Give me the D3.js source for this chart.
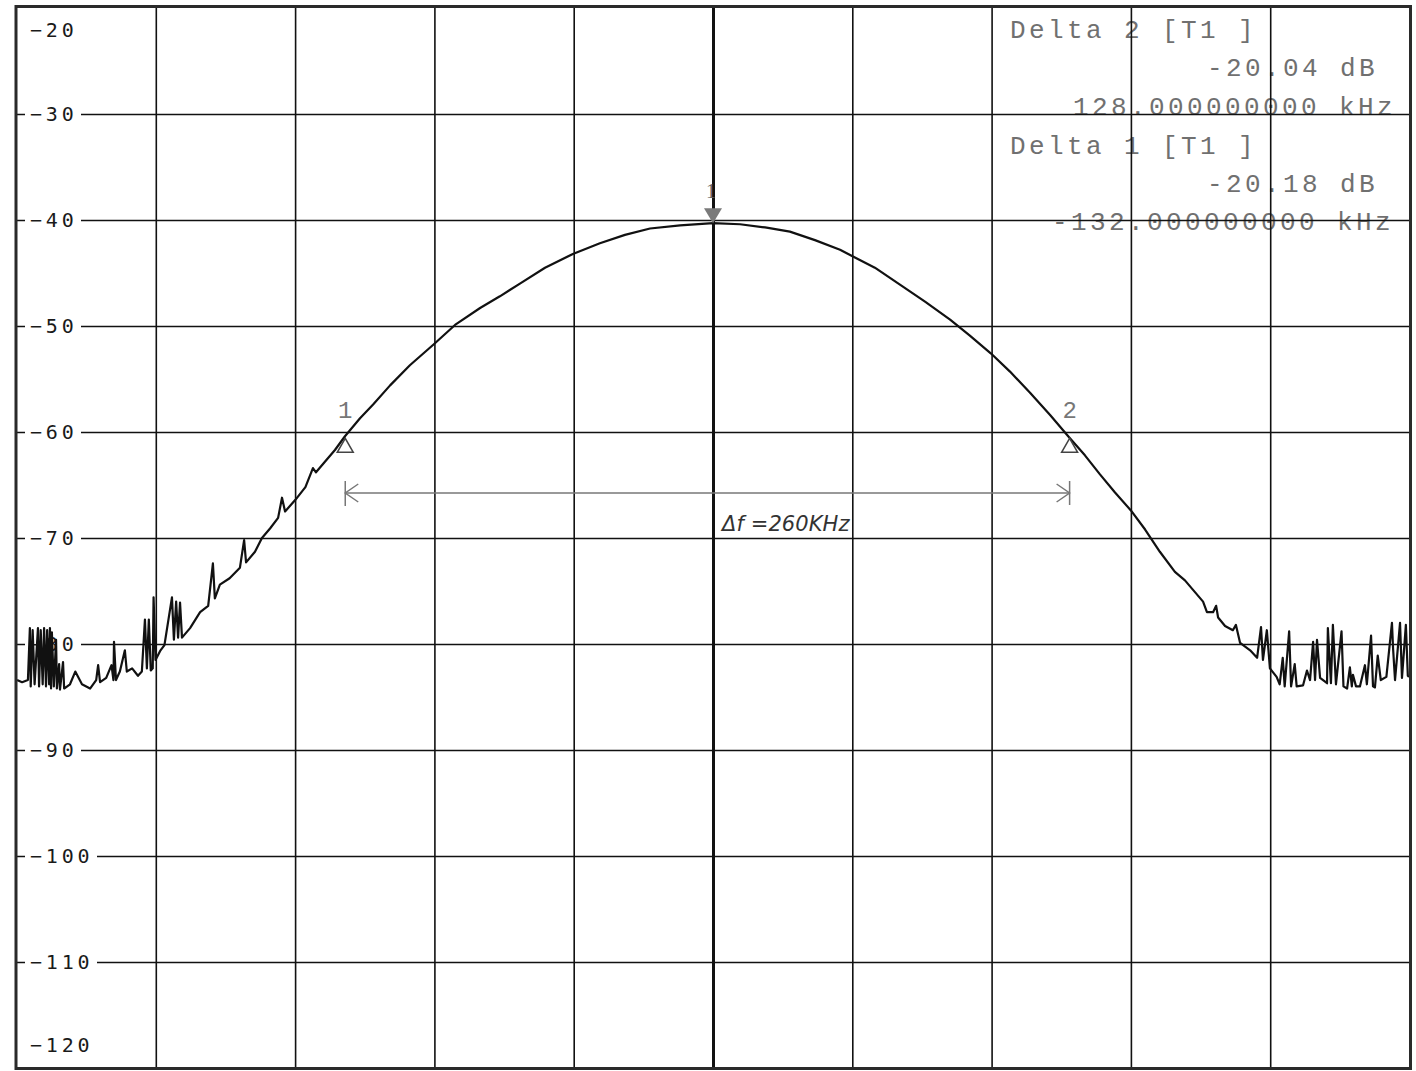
<!DOCTYPE html>
<html><head><meta charset="utf-8">
<script src="https://cdn.jsdelivr.net/npm/d3@7"></script>
<style>body{margin:0;background:#fff}svg{display:block}</style>
</head><body>
<svg id="c" width="1416" height="1071"></svg>
<script>
// ---- data ----
const yTicks = [-20,-30,-40,-50,-60,-70,-80,-90,-100,-110,-120];
const xTicks = [-250,-200,-150,-100,-50,0,50,100,150,200,250];
const traceKHz = [-249.8,-248.0,-245.9,-245.2,-244.9,-244.2,-243.5,-242.3,-241.9,-241.3,-240.6,-240.1,-239.4,-239.0,-238.3,-238.0,-237.6,-237.3,-236.6,-235.8,-235.5,-234.7,-234.4,-233.3,-232.9,-230.8,-228.9,-226.5,-223.6,-221.4,-220.7,-220.0,-217.8,-215.9,-215.2,-215.0,-214.3,-212.9,-211.1,-210.4,-208.5,-206.4,-205.0,-203.9,-203.2,-202.5,-201.8,-201.1,-200.8,-200.1,-198.3,-196.9,-194.2,-193.5,-192.7,-192.0,-191.3,-190.6,-187.7,-184.1,-181.2,-179.5,-178.8,-177.0,-173.5,-169.8,-168.3,-167.6,-164.4,-161.9,-159.0,-156.1,-154.7,-153.6,-149.9,-146.3,-143.6,-142.5,-139.3,-135.7,-132.1,-126.7,-122.0,-115.9,-108.8,-100.1,-92.6,-83.6,-76.5,-69.3,-60.3,-50.3,-40.6,-31.6,-22.6,-11.8,0,9.7,18.7,27.6,36.6,45.6,49.9,58.1,67.1,76.1,85.1,92.2,99.8,106.6,113.8,121.0,127.8,133.5,138.9,144.3,150.0,155.1,160.4,165.8,169.4,175.9,177.3,179.5,180.6,181.3,183.8,186.6,187.7,189.2,192.8,195.3,196.7,197.4,198.8,199.9,202.3,203.4,204.5,205.2,206.8,207.5,208.8,209.5,211.8,213.2,214.3,215.4,216.1,216.8,217.9,220.4,220.7,221.8,222.5,223.6,225.6,226.3,227.6,228.6,229.3,229.7,230.8,232.2,234.0,234.7,236.2,236.9,237.6,238.6,239.7,241.7,243.7,244.1,244.8,246.6,247.3,248.7,249.4,249.8];
const traceDb = [-83.4,-83.6,-83.4,-78.5,-84.0,-78.7,-83.8,-78.5,-84.0,-78.7,-83.8,-78.5,-84.0,-78.7,-83.8,-78.5,-84.2,-78.9,-84.0,-79.6,-84.2,-81.9,-84.3,-81.7,-84.2,-83.8,-82.6,-83.8,-84.2,-83.4,-82.0,-83.6,-83.2,-82.0,-83.4,-79.8,-83.4,-82.6,-80.6,-82.6,-82.3,-83.0,-82.6,-77.7,-82.3,-77.7,-82.5,-82.3,-75.6,-81.5,-80.6,-80.1,-75.6,-79.6,-76.0,-79.4,-76.1,-79.4,-78.5,-77.0,-76.4,-72.4,-75.7,-74.4,-73.8,-72.8,-70.2,-72.3,-71.3,-70.0,-69.1,-68.1,-66.2,-67.5,-66.4,-65.2,-63.4,-63.8,-62.8,-61.7,-60.4,-58.7,-57.4,-55.6,-53.7,-51.7,-49.9,-48.3,-47.2,-46.0,-44.5,-43.2,-42.2,-41.4,-40.8,-40.5,-40.3,-40.4,-40.7,-41.1,-41.9,-42.8,-43.4,-44.5,-46.1,-47.7,-49.4,-50.9,-52.6,-54.3,-56.3,-58.4,-60.5,-62.2,-64.0,-65.7,-67.4,-69.2,-71.3,-73.2,-74.0,-76.0,-77.0,-77.0,-76.4,-77.5,-78.3,-78.7,-78.2,-79.9,-80.6,-81.3,-78.4,-81.5,-78.7,-82.3,-83.1,-83.8,-81.3,-84.0,-78.8,-84.0,-81.9,-84.0,-83.9,-82.5,-83.4,-79.8,-83.4,-79.6,-83.2,-83.7,-78.5,-83.7,-78.2,-83.8,-78.8,-84.0,-84.2,-82.2,-84.0,-82.9,-84.0,-84.0,-82.0,-83.8,-79.2,-84.0,-84.1,-81.1,-83.4,-83.1,-78.0,-80.4,-83.4,-78.0,-83.2,-78.2,-83.0,-83.1];
const deltaMarkers = [
  {id:"1", khz:-132, db:-60.5},
  {id:"2", khz:128, db:-60.5}
];
const refMarker = {id:"1", khz:0, db:-40.3};
const infoLines = ["Delta 2 [T1 ]","-20.04 dB","128.000000000 kHz","Delta 1 [T1 ]","-20.18 dB","-132.000000000 kHz"];
const deltaNote = "Δf =260KHz";

// ---- layout ----
const svg = d3.select("#c");
const L=16.5, R=1409.5, T=8, B=1068;
const x = d3.scaleLinear().domain([-250,250]).range([L,R]);
const y = d3.scaleLinear().domain([-120,-20]).range([B,T]);

// marker info text (under grid)
const infoPos = [[1010,38],[1207,76],[1073,115],[1010,154],[1207,192],[1052,230]];
svg.append("g").selectAll("text").data(infoLines).join("text")
  .attr("x",(d,i)=>infoPos[i][0]).attr("y",(d,i)=>infoPos[i][1])
  .attr("font-family","'Courier New','Liberation Mono',monospace")
  .attr("font-size",26).attr("letter-spacing",3.4).attr("fill","#707070")
  .style("white-space","pre").text(d=>d);

// grid via axes
const gx = svg.append("g").attr("transform",`translate(0,${B})`)
  .call(d3.axisBottom(x).tickValues(xTicks.slice(1,-1)).tickSize(-(B-T)).tickFormat(""));
gx.select(".domain").remove();
gx.selectAll("line").attr("stroke","#111").attr("stroke-width",d=>d===0?3:1.6);
const gy = svg.append("g").attr("transform",`translate(${L},0)`)
  .call(d3.axisLeft(y).tickValues(yTicks.slice(1,-1)).tickSize(-(R-L)).tickFormat(""));
gy.select(".domain").remove();
gy.selectAll("line").attr("stroke","#111").attr("stroke-width",1.6);

// y labels with white background
const lab = svg.append("g");
yTicks.forEach(v=>{
  const t = String(v).replace("-","−");
  let cy = y(v);
  if (v===-20) cy = 30;
  if (v===-120) cy = 1045;
  const w = t.length*16;
  if (v!==-20 && v!==-120)
    lab.append("rect").attr("x",25).attr("y",cy-9).attr("width",w+8).attr("height",18).attr("fill","#fff");
  lab.append("text").attr("x",30).attr("y",cy).attr("dy","0.36em")
    .attr("font-family","'DejaVu Sans Mono',monospace").attr("font-size",20)
    .attr("letter-spacing",3.8).attr("fill","#1a1a1a").text(t);
});

// trace
const pts = traceKHz.map((k,i)=>[k,traceDb[i]]);
svg.append("path").datum(pts)
  .attr("d",d3.line().x(d=>x(d[0])).y(d=>y(d[1])))
  .attr("fill","none").attr("stroke","#111").attr("stroke-width",2.2).attr("stroke-linejoin","round");

// reference marker
const rx = x(refMarker.khz), ry = y(refMarker.db);
svg.append("path").attr("d",`M${rx-9},${ry-15}L${rx+9},${ry-15}L${rx},${ry}Z`).attr("fill","#7a7a7a");
svg.append("text").attr("x",rx-2).attr("y",ry-25).attr("text-anchor","middle")
  .attr("font-family","'Liberation Serif',serif").attr("font-size",20).attr("fill","#666").text(refMarker.id);

// delta markers
deltaMarkers.forEach(m=>{
  const mx=x(m.khz), my=y(m.db);
  svg.append("path").attr("d",`M${mx},${my+1}L${mx-8},${my+15}L${mx+8},${my+15}Z`)
    .attr("fill","none").attr("stroke","#444").attr("stroke-width",1.5);
  svg.append("text").attr("x",mx).attr("y",my-19).attr("text-anchor","middle")
    .attr("font-family","'Liberation Mono',monospace").attr("font-size",24).attr("fill","#777").text(m.id);
});

// delta arrow
const ax1 = x(deltaMarkers[0].khz), ax2 = x(deltaMarkers[1].khz), ay = 493;
const ag = svg.append("g").attr("stroke","#777").attr("stroke-width",1.5).attr("fill","none");
ag.append("line").attr("x1",ax1).attr("x2",ax2).attr("y1",ay).attr("y2",ay);
ag.append("line").attr("x1",ax1).attr("x2",ax1).attr("y1",ay-12).attr("y2",ay+13);
ag.append("line").attr("x1",ax2).attr("x2",ax2).attr("y1",ay-12).attr("y2",ay+12);
ag.append("path").attr("d",`M${ax1+13},${ay-9}L${ax1},${ay}L${ax1+13},${ay+9}`);
ag.append("path").attr("d",`M${ax2-13},${ay-9}L${ax2},${ay}L${ax2-13},${ay+9}`);
svg.append("text").attr("x",722).attr("y",531)
  .attr("font-family","'DejaVu Sans',sans-serif").attr("font-size",21)
  .attr("font-style","italic").attr("letter-spacing",0.5).attr("fill","#333")
  .attr("textLength",128).text(deltaNote);

// border
svg.append("rect").attr("x",L-0.5).attr("y",T-1.5).attr("width",R-L+1.5).attr("height",B-T+2)
  .attr("fill","none").attr("stroke","#2a2a2a").attr("stroke-width",3);
</script>
</body></html>
